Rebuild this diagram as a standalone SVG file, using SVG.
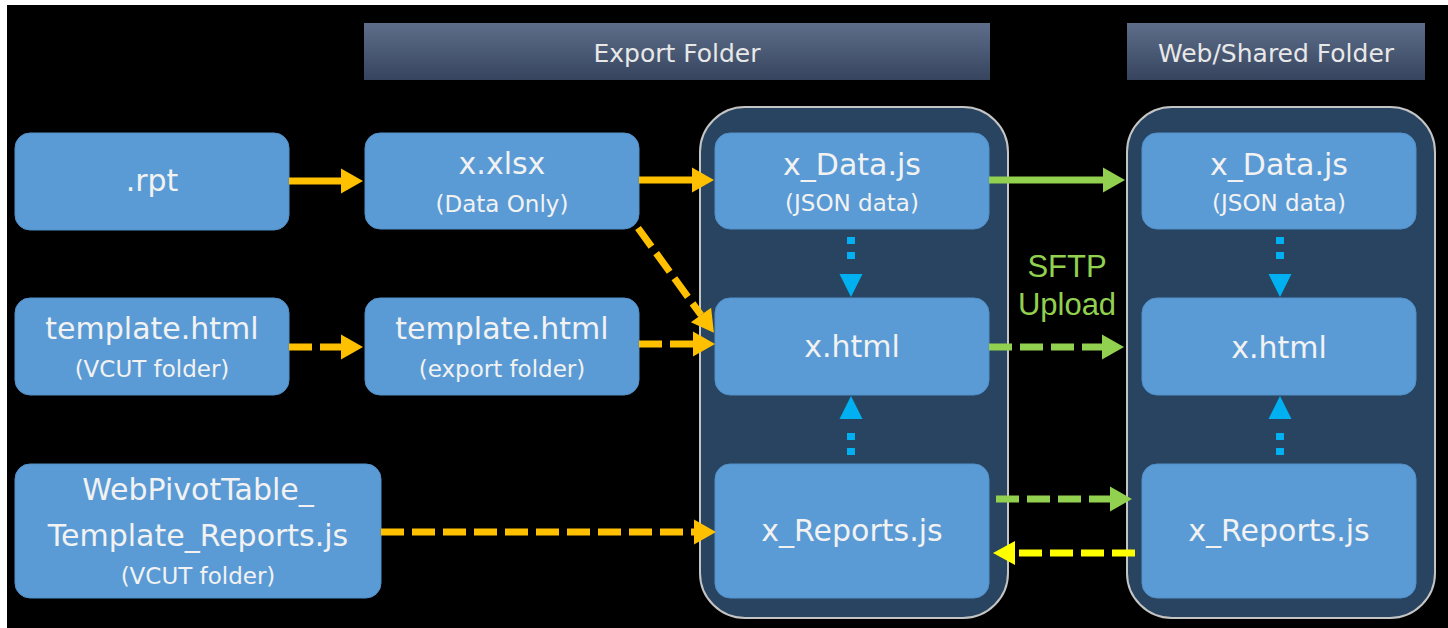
<svg xmlns="http://www.w3.org/2000/svg" width="1448" height="628" viewBox="0 0 1448 628">
<style>
.box{fill:#5B9BD5;stroke:#5290C8;stroke-width:1}
.cont{fill:#284461;stroke:#C4C4C4;stroke-width:2}
.hdr{fill:url(#hg)}
.t{font-family:"DejaVu Sans",sans-serif;fill:#F2F2F2;text-anchor:middle}
.big{font-size:30px}
.sub{font-size:23px}
.ht{font-size:25px;fill:#E8E8E8}
.sftp{font-family:"Liberation Sans",Arial,sans-serif;font-size:31px;fill:#92D050;text-anchor:middle}
.or{stroke:#FFC000;stroke-width:7;fill:none}
.gr{stroke:#92D050;stroke-width:7;fill:none}
.ye{stroke:#FFFF00;stroke-width:7;fill:none}
.bl{stroke:#00B0F0;stroke-width:8;fill:none;stroke-dasharray:7 8}
.da{stroke-dasharray:23 8}
</style>
<defs>
<linearGradient id="hg" x1="0" y1="0" x2="0" y2="1">
<stop offset="0" stop-color="#5E6E8A"/>
<stop offset="1" stop-color="#36445E"/>
</linearGradient>
<marker id="mo" markerUnits="userSpaceOnUse" markerWidth="24" markerHeight="26" refX="0" refY="12.5" orient="auto" overflow="visible"><path d="M0,0 L22,12.5 L0,25 z" fill="#FFC000"/></marker>
<marker id="mg" markerUnits="userSpaceOnUse" markerWidth="24" markerHeight="26" refX="0" refY="12.5" orient="auto" overflow="visible"><path d="M0,0 L22,12.5 L0,25 z" fill="#92D050"/></marker>
<marker id="my" markerUnits="userSpaceOnUse" markerWidth="24" markerHeight="26" refX="0" refY="12" orient="auto" overflow="visible"><path d="M0,0 L22,12 L0,24 z" fill="#FFFF00"/></marker>
<marker id="mb" markerUnits="userSpaceOnUse" markerWidth="32" markerHeight="24" refX="0" refY="11.5" orient="auto" overflow="visible"><path d="M8,0 L31,11.5 L8,23 z" fill="#00B0F0"/></marker>
</defs>
<rect x="0" y="0" width="1448" height="628" fill="#FFFFFF"/>
<rect x="7" y="5" width="1441" height="623" fill="#000000"/>

<g id="export-header"><rect class="hdr" x="364" y="23" width="626" height="57"/><text class="t ht" x="677" y="62">Export Folder</text></g>
<g id="web-header"><rect class="hdr" x="1127" y="23" width="298" height="57"/><text class="t ht" x="1276" y="62">Web/Shared Folder</text></g>

<g id="export-container"><rect class="cont" x="700" y="107" width="308" height="511" rx="45"/></g>
<g id="web-container"><rect class="cont" x="1127" y="107" width="308" height="511" rx="45"/></g>

<g id="rpt"><rect class="box" x="15" y="133" width="274" height="97" rx="15"/><text class="t big" x="152" y="191">.rpt</text></g>
<g id="template-vcut"><rect class="box" x="15" y="298" width="274" height="97" rx="15"/><text class="t big" x="152" y="339">template.html</text><text class="t sub" x="152" y="377">(VCUT folder)</text></g>
<g id="webpivot"><rect class="box" x="15" y="464" width="366" height="134" rx="15"/><text class="t big" x="198" y="500">WebPivotTable_</text><text class="t big" x="198" y="546">Template_Reports.js</text><text class="t sub" x="198" y="584">(VCUT folder)</text></g>
<g id="xlsx"><rect class="box" x="365" y="133" width="274" height="96" rx="15"/><text class="t big" x="502" y="174">x.xlsx</text><text class="t sub" x="502" y="212">(Data Only)</text></g>
<g id="template-export"><rect class="box" x="365" y="298" width="274" height="97" rx="15"/><text class="t big" x="502" y="339">template.html</text><text class="t sub" x="502" y="377">(export folder)</text></g>

<g id="x-data-export"><rect class="box" x="715" y="133" width="274" height="96" rx="15"/><text class="t big" x="852" y="175">x_Data.js</text><text class="t sub" x="852" y="211">(JSON data)</text></g>
<g id="x-html-export"><rect class="box" x="715" y="298" width="274" height="97" rx="15"/><text class="t big" x="852" y="357">x.html</text></g>
<g id="x-reports-export"><rect class="box" x="715" y="464" width="274" height="134" rx="15"/><text class="t big" x="852" y="541">x_Reports.js</text></g>

<g id="x-data-web"><rect class="box" x="1142" y="133" width="274" height="96" rx="15"/><text class="t big" x="1279" y="175">x_Data.js</text><text class="t sub" x="1279" y="211">(JSON data)</text></g>
<g id="x-html-web"><rect class="box" x="1142" y="298" width="274" height="97" rx="15"/><text class="t big" x="1279" y="358">x.html</text></g>
<g id="x-reports-web"><rect class="box" x="1142" y="464" width="274" height="134" rx="15"/><text class="t big" x="1279" y="541">x_Reports.js</text></g>

<g id="sftp-label"><text class="sftp" x="1067" y="277">SFTP</text><text class="sftp" x="1067" y="315">Upload</text></g>

<g id="connectors">
<path class="or" d="M289,181 H341" marker-end="url(#mo)"/>
<path class="or" d="M639,180 H692" marker-end="url(#mo)"/>
<path class="or da" d="M638,228 L701,315" marker-end="url(#mo)"/>
<path class="or da" d="M289,347 H341" marker-end="url(#mo)"/>
<path class="or da" d="M639,344 H693" marker-end="url(#mo)"/>
<path class="or da" d="M381,532 H694" marker-end="url(#mo)"/>
<path class="gr" d="M989,180 H1103" marker-end="url(#mg)"/>
<path class="gr da" d="M989,347 H1102" marker-end="url(#mg)"/>
<path class="gr da" d="M996,499 H1110" marker-end="url(#mg)"/>
<path class="ye da" d="M1135,553 H1015" marker-end="url(#my)"/>
<path class="bl" d="M851,237 V266" marker-end="url(#mb)"/>
<path class="bl" d="M851,455 V427" marker-end="url(#mb)"/>
<path class="bl" d="M1280,237 V266" marker-end="url(#mb)"/>
<path class="bl" d="M1280,455 V427" marker-end="url(#mb)"/>
</g>
</svg>
